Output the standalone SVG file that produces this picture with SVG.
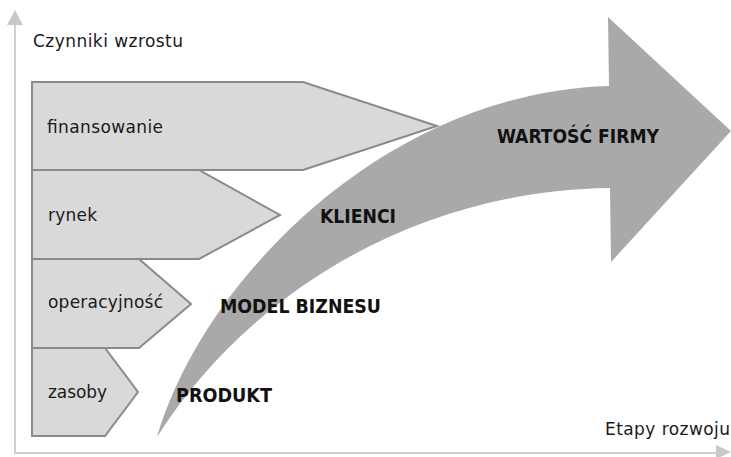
<svg xmlns="http://www.w3.org/2000/svg" width="731" height="457" viewBox="0 0 731 457">
  <style>
    .axis { stroke: #cfcfcf; stroke-width: 2; fill: none; }
    .axis-head { fill: #c8c8c8; }
    .band { fill: #d9d9d9; stroke: #8a8a8a; stroke-width: 2; stroke-linejoin: miter; }
    .growth { fill: #a9a9a9; }
    .label { font-family: "DejaVu Sans", Verdana, sans-serif; font-size: 17px; fill: #1a1a1a; }
    .stage { font-family: "DejaVu Sans Condensed", "DejaVu Sans", sans-serif; font-stretch: condensed; font-weight: bold; font-size: 20px; fill: #111; }
  </style>
  <rect width="731" height="457" fill="#ffffff"/>

  <!-- axes -->
  <g id="axes">
    <line class="axis" x1="15" y1="24" x2="15" y2="453"/>
    <polygon class="axis-head" points="7,25 15,10 23,25"/>
    <line class="axis" x1="14" y1="453" x2="717" y2="453"/>
    <polygon class="axis-head" points="716,445 731,452 716,459"/>
    <text class="label" x="33" y="47" textLength="150" lengthAdjust="spacing">Czynniki wzrostu</text>
    <text class="label" x="605" y="435" textLength="125" lengthAdjust="spacing">Etapy rozwoju</text>
  </g>

  <!-- curved growth arrow -->
  <g id="growth-arrow">
    <path class="growth" d="M157,437 C205,275 390,92 609,86 L608,17 L731,131 L611,262 L610,188 C420,190 250,290 157,437 Z"/>
  </g>

  <!-- growth factor bands -->
  <g id="finansowanie">
    <path class="band" d="M32,82 H303 L437,126 L303,170 H32 Z"/>
    <text class="label" x="47" y="133" textLength="116" lengthAdjust="spacing">finansowanie</text>
  </g>
  <g id="rynek">
    <path class="band" d="M32,170 H199 L280,215 L199,259 H32 Z"/>
    <text class="label" x="48" y="221" textLength="49" lengthAdjust="spacing">rynek</text>
  </g>
  <g id="operacyjnosc">
    <path class="band" d="M32,259 H139 L191,304 L139,348 H32 Z"/>
    <text class="label" x="48" y="308" textLength="115" lengthAdjust="spacing">operacyjność</text>
  </g>
  <g id="zasoby">
    <path class="band" d="M32,348 H105 L138,392 L105,436 H32 Z"/>
    <text class="label" x="48" y="398" textLength="59" lengthAdjust="spacing">zasoby</text>
  </g>

  <!-- development stages -->
  <g id="stages">
    <text class="stage" x="176" y="402" textLength="96" lengthAdjust="spacingAndGlyphs">PRODUKT</text>
    <text class="stage" x="220" y="313" textLength="161" lengthAdjust="spacingAndGlyphs">MODEL BIZNESU</text>
    <text class="stage" x="320" y="223" textLength="76" lengthAdjust="spacingAndGlyphs">KLIENCI</text>
    <text class="stage" x="497" y="143" textLength="162" lengthAdjust="spacingAndGlyphs">WARTOŚĆ FIRMY</text>
  </g>
</svg>
